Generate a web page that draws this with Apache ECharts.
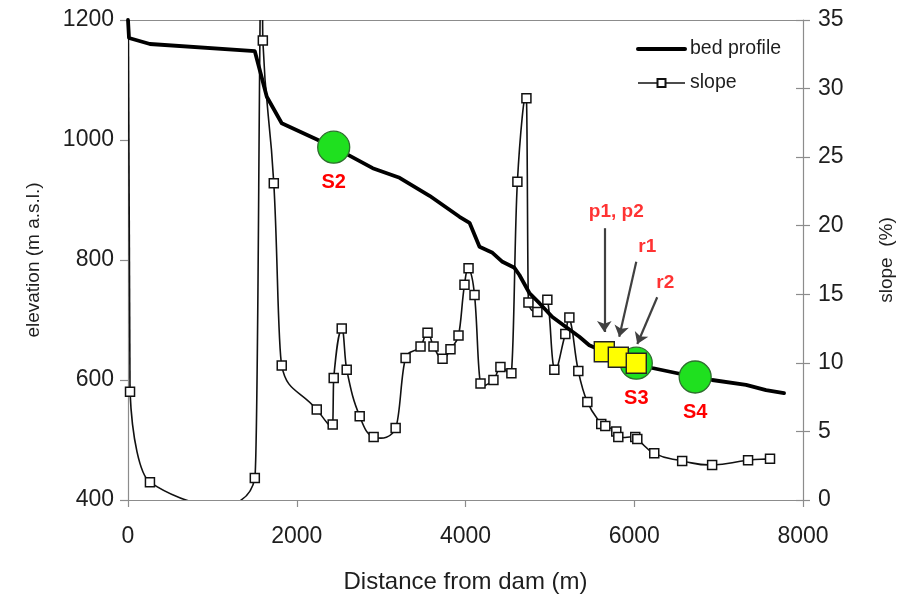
<!DOCTYPE html>
<html>
<head>
<meta charset="utf-8">
<script src="https://cdn.jsdelivr.net/npm/echarts@6/dist/echarts.min.js"></script>
<style>
  html, body { margin: 0; padding: 0; background: #ffffff; }
  #chart { width: 901px; height: 595px; }
</style>
</head>
<body>
<div id="chart"></div>
<script>
// Longitudinal bed profile downstream of the dam (distance in m, elevation in m a.s.l.)
const bedDistance  = [0, 12, 260, 1503, 1645, 1822, 2438, 2900, 3219, 3574, 3929, 4048, 4166, 4320, 4438, 4580, 4639, 4757, 4876, 5030, 5195, 5349, 5467, 5645, 5811, 6024, 6213, 6722, 6923, 7325, 7562, 7775];
const bedElevation = [1200, 1170, 1160, 1148, 1072, 1028, 988, 953, 937, 907, 872, 862, 822, 812, 797, 787, 775, 745, 728, 705, 688, 672, 658, 647, 638, 628, 620, 605, 600, 592, 583, 578];

// Local bed slope (%); the values at 0 m and 1585 m lie above the axis range
const slopeDistance = [0, 24, 260, 1503, 1585, 1598, 1728, 1822, 2237, 2426, 2438, 2533, 2592, 2746, 2911, 3172, 3290, 3467, 3550, 3621, 3728, 3822, 3917, 3988, 4036, 4107, 4178, 4331, 4414, 4544, 4615, 4722, 4746, 4852, 4970, 5053, 5183, 5231, 5337, 5444, 5609, 5657, 5787, 5811, 6012, 6036, 6237, 6568, 6923, 7349, 7609];
const slopePercent  = [40, 7.9, 1.3, 1.6, 45, 33.5, 23.1, 9.8, 6.6, 5.5, 8.9, 12.5, 9.5, 6.1, 4.6, 5.25, 10.35, 11.2, 12.2, 11.2, 10.3, 11.0, 12.0, 15.7, 16.9, 14.95, 8.5, 8.75, 9.7, 9.25, 23.2, 29.3, 14.4, 13.7, 14.6, 9.5, 12.1, 13.3, 9.4, 7.15, 5.55, 5.4, 5.0, 4.6, 4.6, 4.45, 3.4, 2.85, 2.55, 2.9, 3.0];

// Monitoring stations on the profile
const stationNames     = ['S2', 'S3', 'S4'];
const stationDistance  = [2438, 6024, 6722];
const stationElevation = [988, 628, 605];

// Sampling points p1/p2, r1, r2
const sampleDistance  = [5645, 5811, 6024];
const sampleElevation = [647, 638, 628];

// Callout texts and their arrows
const calloutText      = ['p1, p2', 'r1', 'r2'];
const calloutDistance  = [5787, 6154, 6367];
const calloutElevation = [880, 822, 762];
const arrowTail = [[5645, 853], [6024, 797], [6272, 738]];
const arrowHead = [[5645, 680], [5822, 672], [6036, 660]];

// Axis ticks
const distanceTicks  = { min: 0, max: 8000, interval: 2000 };
const elevationTicks = { min: 400, max: 1200, interval: 200 };
const slopeTicks     = { min: 0, max: 35, interval: 5 };

const zip = (a, b) => a.map((v, i) => [v, b[i]]);

const font = 'Liberation Sans, Arial, sans-serif';
const axisGrey = '#8c8c8c';
const textColor = '#1e1e1e';
const tickFontSize = 23;
const plainNumber = v => String(v);

// Smoothed curve through pixel points: tangent parallel to the neighbour chord,
// arms split by segment length and kept within half of each segment's x-span.
function smoothSegments(pts, f) {
  const n = pts.length;
  const outCp = [], inCp = [];
  for (let i = 0; i < n; i++) {
    const p = pts[i];
    const prev = pts[i - 1] || p;
    const next = pts[i + 1] || p;
    const tx = next[0] - prev[0], ty = next[1] - prev[1];
    const dPrev = Math.hypot(p[0] - prev[0], p[1] - prev[1]);
    const dNext = Math.hypot(next[0] - p[0], next[1] - p[1]);
    const sum = (dPrev + dNext) || 1;
    let ox = tx * f * dNext / sum, oy = ty * f * dNext / sum;
    let ix = tx * f * dPrev / sum, iy = ty * f * dPrev / sum;
    const limN = Math.abs(next[0] - p[0]) * 0.5;
    const limP = Math.abs(p[0] - prev[0]) * 0.5;
    if (Math.abs(ox) > limN) { const k = limN / Math.abs(ox); ox *= k; oy *= k; }
    if (Math.abs(ix) > limP) { const k = limP / Math.abs(ix); ix *= k; iy *= k; }
    outCp.push([p[0] + ox, p[1] + oy]);
    inCp.push([p[0] - ix, p[1] - iy]);
  }
  const segs = [];
  for (let i = 0; i < n - 1; i++) {
    segs.push({
      x1: pts[i][0], y1: pts[i][1],
      cpx1: outCp[i][0], cpy1: outCp[i][1],
      cpx2: inCp[i + 1][0], cpy2: inCp[i + 1][1],
      x2: pts[i + 1][0], y2: pts[i + 1][1]
    });
  }
  return segs;
}

const chart = echarts.init(document.getElementById('chart'), null, { renderer: 'canvas' });

chart.setOption({
  animation: false,
  backgroundColor: '#ffffff',
  textStyle: { fontFamily: font },
  grid: { left: 128, right: 98, top: 20, bottom: 95, containLabel: false, outerBoundsMode: 'none' },
  legend: {
    orient: 'vertical',
    left: 631,
    top: 34,
    itemWidth: 47,
    itemHeight: 10,
    itemGap: 14,
    data: [
      { name: 'bed profile', itemStyle: { opacity: 0, borderWidth: 0 }, lineStyle: { width: 4, color: '#000000' } },
      { name: 'slope', lineStyle: { width: 1.6, color: '#111111', opacity: 1 } }
    ],
    textStyle: { fontFamily: font, fontSize: 19.5, color: textColor }
  },
  xAxis: [
    {
      type: 'value',
      position: 'bottom',
      min: distanceTicks.min, max: distanceTicks.max, interval: distanceTicks.interval,
      name: 'Distance from dam (m)',
      nameLocation: 'middle',
      nameGap: 70,
      nameTextStyle: { fontFamily: font, fontSize: 24, color: textColor },
      axisLine: { show: true, onZero: false, lineStyle: { color: axisGrey, width: 1.2 } },
      axisTick: { show: true, length: 7, lineStyle: { color: axisGrey, width: 1.2 } },
      axisLabel: { margin: 25, fontFamily: font, fontSize: tickFontSize, color: textColor, formatter: plainNumber },
      splitLine: { show: false }
    },
    {
      type: 'value',
      position: 'top',
      min: distanceTicks.min, max: distanceTicks.max,
      axisLine: { show: true, onZero: false, lineStyle: { color: axisGrey, width: 1.2 } },
      axisTick: { show: false },
      axisLabel: { show: false },
      splitLine: { show: false }
    }
  ],
  yAxis: [
    {
      type: 'value',
      position: 'left',
      min: elevationTicks.min, max: elevationTicks.max, interval: elevationTicks.interval,
      name: 'elevation (m a.s.l.)',
      nameLocation: 'middle',
      nameRotate: 90,
      nameGap: 85,
      nameTextStyle: { fontFamily: font, fontSize: 19, color: textColor },
      axisLine: { show: true, onZero: false, lineStyle: { color: axisGrey, width: 1.2 } },
      axisTick: { show: true, length: 8, lineStyle: { color: axisGrey, width: 1.2 } },
      axisLabel: { margin: 14, fontFamily: font, fontSize: tickFontSize, color: textColor, formatter: plainNumber },
      splitLine: { show: false }
    },
    {
      type: 'value',
      position: 'right',
      min: slopeTicks.min, max: slopeTicks.max, interval: slopeTicks.interval,
      name: 'slope  (%)',
      nameLocation: 'middle',
      nameRotate: 90,
      nameGap: 74,
      nameTextStyle: { fontFamily: font, fontSize: 19, color: textColor },
      axisLine: { show: true, onZero: false, lineStyle: { color: axisGrey, width: 1.2 } },
      axisTick: { show: true, length: 7, lineStyle: { color: axisGrey, width: 1.2 } },
      axisLabel: { margin: 15, fontFamily: font, fontSize: tickFontSize, color: textColor, formatter: plainNumber },
      splitLine: { show: false }
    },
    {
      // inner half of the crossing ticks on the slope axis
      type: 'value',
      position: 'right',
      min: slopeTicks.min, max: slopeTicks.max, interval: slopeTicks.interval,
      axisLine: { show: false, onZero: false },
      axisTick: { show: true, inside: true, length: 7, lineStyle: { color: axisGrey, width: 1.2 } },
      axisLabel: { show: false },
      splitLine: { show: false }
    }
  ],
  series: [
    {
      name: 'slope curve',
      type: 'custom',
      coordinateSystem: 'cartesian2d',
      xAxisIndex: 0,
      yAxisIndex: 1,
      data: [[0, 0]],
      silent: true,
      clip: true,
      z: 2,
      renderItem: (params, api) => {
        const pts = slopeDistance.map((d, i) => api.coord([d, slopePercent[i]]));
        const cs = params.coordSys;
        return {
          type: 'group',
          clipPath: { type: 'rect', shape: { x: cs.x, y: cs.y, width: cs.width, height: cs.height } },
          children: smoothSegments(pts, 0.5).map(s => ({
            type: 'bezierCurve',
            shape: s,
            style: { stroke: '#111111', lineWidth: 1.6, fill: null }
          }))
        };
      }
    },
    {
      name: 'slope',
      type: 'line',
      xAxisIndex: 0,
      yAxisIndex: 1,
      data: zip(slopeDistance, slopePercent),
      clip: true,
      showAllSymbol: true,
      symbol: 'rect',
      symbolSize: 9,
      lineStyle: { width: 0, opacity: 0 },
      itemStyle: { color: '#ffffff', borderColor: '#111111', borderWidth: 1.5 },
      z: 3
    },
    {
      name: 'bed profile',
      type: 'line',
      xAxisIndex: 0,
      yAxisIndex: 0,
      data: zip(bedDistance, bedElevation),
      symbol: 'none',
      clip: true,
      lineStyle: { color: '#000000', width: 3.8, join: 'round', cap: 'round' },
      itemStyle: { color: '#000000' },
      z: 4
    },
    {
      name: 'stations',
      type: 'scatter',
      xAxisIndex: 0,
      yAxisIndex: 0,
      data: stationDistance.map((d, i) => ({ value: [d, stationElevation[i]], name: stationNames[i] })),
      symbol: 'circle',
      symbolSize: 32,
      itemStyle: { color: '#1fe01f', borderColor: '#2e6e2e', borderWidth: 1.3, opacity: 1 },
      label: {
        show: true,
        position: 'bottom',
        distance: 9,
        formatter: p => p.name,
        fontFamily: font,
        fontWeight: 'bold',
        fontSize: 20,
        color: '#ff0000'
      },
      z: 5
    },
    {
      name: 'samples',
      type: 'scatter',
      xAxisIndex: 0,
      yAxisIndex: 0,
      data: zip(sampleDistance, sampleElevation),
      symbol: 'rect',
      symbolSize: 20,
      itemStyle: { color: '#ffff00', borderColor: '#222222', borderWidth: 1.4, opacity: 1 },
      markLine: {
        silent: true,
        symbol: ['none', 'arrow'],
        symbolSize: 11,
        label: { show: false },
        lineStyle: { color: '#404040', width: 2.2, type: 'solid', opacity: 1 },
        data: arrowTail.map((t, i) => [{ coord: t }, { coord: arrowHead[i] }])
      },
      z: 6
    },
    {
      name: 'callouts',
      type: 'scatter',
      xAxisIndex: 0,
      yAxisIndex: 0,
      data: calloutDistance.map((d, i) => ({ value: [d, calloutElevation[i]], name: calloutText[i] })),
      symbolSize: 0,
      label: {
        show: true,
        position: 'inside',
        formatter: p => p.name,
        fontFamily: font,
        fontWeight: 'bold',
        fontSize: 19,
        color: '#ff0000'
      },
      z: 7
    }
  ]
});
</script>
</body>
</html>
